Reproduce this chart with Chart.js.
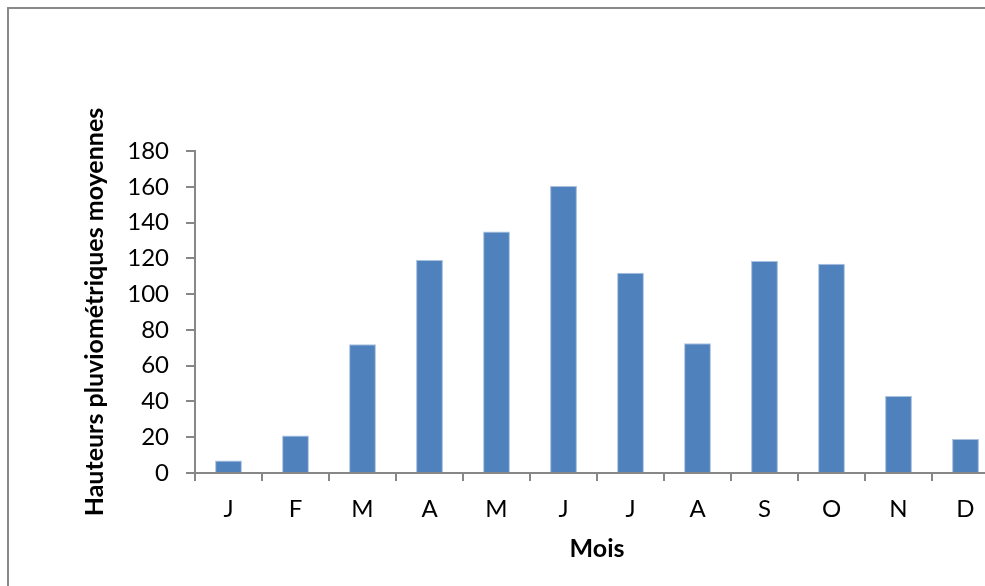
<!DOCTYPE html>
<html>
<head>
<meta charset="utf-8">
<script src="https://cdn.jsdelivr.net/npm/chart.js@4/dist/chart.umd.min.js"></script>
<style>
    html, body { margin: 0; padding: 0; background: #fff; overflow: hidden; }
    #frame {
        position: absolute; left: 7px; top: 7px;
        width: 1100px; height: 700px;
        border: 2px solid #8a8a8a;
        box-sizing: border-box;
    }
    #pluie { position: absolute; left: 0; top: 0; }
</style>
</head>
<body>
<div id="frame"></div>
<canvas id="pluie" width="1010" height="586"></canvas>
<script>
    // données
    const mois = ['J', 'F', 'M', 'A', 'M', 'J', 'J', 'A', 'S', 'O', 'N', 'D'];
    const hauteurs = [7, 21, 72, 119, 135, 160.5, 112, 72.5, 118.5, 117, 43, 19];
    const yMin = 0;
    const yMax = 180;
    const yPas = 20;

    const gris = '#878787';
    const police = 'Lato, "Open Sans", sans-serif';

    const ctx = document.getElementById('pluie').getContext('2d');

    new Chart(ctx, {
        type: 'bar',
        data: {
            labels: mois,
            datasets: [{
                data: hauteurs,
                backgroundColor: '#4f81bd',
                borderColor: '#a9c1de',
                borderWidth: 1,
                barPercentage: 0.4,
                categoryPercentage: 1
            }]
        },
        options: {
            responsive: false,
            animation: false,
            devicePixelRatio: 1,
            layout: { padding: { top: 151, left: 0, right: 11, bottom: 0 } },
            plugins: {
                legend: { display: false },
                tooltip: { enabled: false }
            },
            scales: {
                x: {
                    grid: { drawOnChartArea: false, drawTicks: true, tickLength: 8, color: gris, lineWidth: 2, offset: true },
                    border: { color: gris, width: 2 },
                    ticks: { color: '#000', padding: 14, font: { family: police, size: 24 }, maxRotation: 0, autoSkip: false },
                    title: {
                        display: true, text: 'Mois', color: '#000',
                        font: { family: police, size: 25, weight: 'bold' },
                        padding: { top: 0, bottom: 22 }
                    },
                    afterFit: s => { s.height = 113; }
                },
                y: {
                    min: yMin,
                    max: yMax,
                    grid: { drawOnChartArea: false, drawTicks: true, tickLength: 9, color: gris, lineWidth: 2 },
                    border: { color: gris, width: 2 },
                    ticks: { stepSize: yPas, color: '#000', padding: 17, font: { family: police, size: 24 } },
                    title: {
                        display: true, text: 'Hauteurs pluviométriques moyennes', color: '#000',
                        font: { family: police, size: 25, weight: 'bold' },
                        padding: { top: 80, bottom: 0 }
                    },
                    afterFit: s => { s.width = 195; }
                }
            }
        }
    });
</script>
</body>
</html>
